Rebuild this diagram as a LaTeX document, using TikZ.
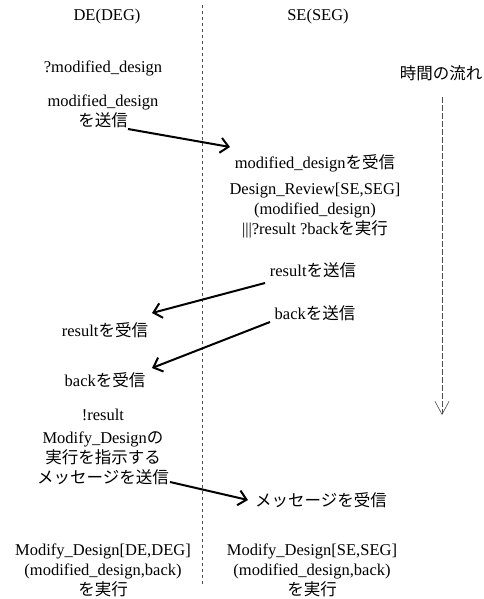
\documentclass[tikz,border=0pt]{standalone}
\usepackage{fontspec}
\setmainfont{Liberation Serif}
\newfontfamily\jp{Noto Sans CJK JP}
\usetikzlibrary{arrows.meta}
\begin{document}
\begin{tikzpicture}[x=1pt,y=-1pt,
  lbl/.style={inner sep=0pt,align=center,font=\fontsize{16.5}{20}\selectfont},
  msg/.style={line width=2pt,-{Straight Barb[length=8pt,width=15pt]}},
  divider/.style={line width=0.6pt,dash pattern=on 3pt off 3pt,black!70},
  timeline/.style={line width=0.6pt,dash pattern=on 6pt off 2pt,black!70,
    -{Straight Barb[length=13pt,width=14pt]}}]
\useasboundingbox (0,0) rectangle (483,599);
% headers
\node[lbl] (de) at (107,17) {DE(DEG)};
\node[lbl] (se) at (318,17) {SE(SEG)};
\node[lbl] (time) at (441,73) {\jp 時間の流れ};
% divider and time axis
\coordinate (divtop) at (202,5);
\coordinate (divbot) at (202,585);
\draw[divider] (divtop) -- (divbot);
\coordinate (ttop) at (442,97);
\coordinate (tbot) at (442,415);
\draw[timeline] (ttop) -- (tbot);
% DE side
\node[lbl] (mdq) at (103,68) {?modified\_design};
\node[lbl] (mdsend) at (103,111) {modified\_design\\{\jp を送信}};
\node[lbl] (resrecv) at (105,330) {result{\jp を受信}};
\node[lbl] (backrecv) at (105,380) {back{\jp を受信}};
\node[lbl] (notres) at (103,415) {!result};
\node[lbl] (msgsend) at (103,458) {Modify\_Design{\jp の}\\{\jp 実行を指示する}\\{\jp メッセージを送信}};
\node[lbl] (modde) at (103,570) {Modify\_Design[DE,DEG]\\(modified\_design,back)\\{\jp を実行}};
% SE side
\node[lbl] (mdrecv) at (315,163) {modified\_design{\jp を受信}};
\node[lbl] (review) at (315,211) {Design\_Review[SE,SEG]\\(modified\_design)\\|||?result ?back{\jp を実行}};
\node[lbl] (ressend) at (313,270) {result{\jp を送信}};
\node[lbl] (backsend) at (315,313) {back{\jp を送信}};
\node[lbl] (msgrecv) at (321,500) {\jp メッセージを受信};
\node[lbl] (modse) at (312,570) {Modify\_Design[SE,SEG]\\(modified\_design,back)\\{\jp を実行}};
% message arrows
\coordinate (a1s) at (128,129);
\coordinate (a1e) at (230,147);
\draw[msg] (a1s) -- (a1e);
\coordinate (a2s) at (265,283);
\coordinate (a2e) at (152,313);
\draw[msg] (a2s) -- (a2e);
\coordinate (a3s) at (270,322);
\coordinate (a3e) at (152,368);
\draw[msg] (a3s) -- (a3e);
\coordinate (a4s) at (170,482);
\coordinate (a4e) at (248,500);
\draw[msg] (a4s) -- (a4e);
\end{tikzpicture}
\end{document}
